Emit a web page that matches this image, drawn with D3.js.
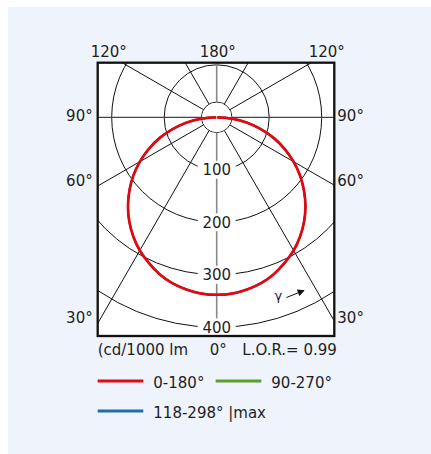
<!DOCTYPE html>
<html>
<head>
<meta charset="utf-8">
<script src="https://cdn.jsdelivr.net/npm/d3@7"></script>
<style>
  html, body { margin: 0; padding: 0; background: #fff; }
  svg { display: block; }
  text { font-family: "DejaVu Sans", sans-serif; fill: #1e1e1e; }
</style>
</head>
<body>
<script>
// gamma angles (deg) and intensities (cd/1000 lm)
var gammaAngles = [0, 5, 10, 15, 20, 25, 30, 35, 40, 45, 50, 55, 60, 65, 70, 75, 80, 85, 90];
var plane0_180 = [338, 337, 333, 327, 318, 306, 293, 277, 259, 239, 217, 194, 169, 143, 116, 87, 59, 29, 1];
var plane90_270 = [338, 337, 333, 327, 318, 306, 293, 277, 259, 239, 217, 194, 169, 143, 116, 87, 59, 29, 1];
var plane118_298 = [338, 337, 333, 327, 318, 306, 293, 277, 259, 239, 217, 194, 169, 143, 116, 87, 59, 29, 1];

var ringValues = [100, 200, 300, 400];
var innerRingValue = 29;
var radialAngles = [30, 60, 90, 120, 150];
var sideLabels = ['30°', '60°', '90°'];
var topLabels = ['120°', '180°', '120°'];
var legendItems = [
    {name: '0-180°', color: '#e30613'},
    {name: '90-270°', color: '#5aa02c'},
    {name: '118-298° |max', color: '#1f6db0'}
];

var W = 431, H = 454;
var cx = 216.7, cy = 117.3;
var box = {x0: 97.7, y0: 62.7, x1: 334.3, y1: 336};
var fs = '15px';

var svg = d3.select('body').append('svg').attr('width', W).attr('height', H);

svg.append('rect').attr('x', 8).attr('y', 7).attr('width', W - 8).attr('height', H - 7)
    .style('fill', '#eff3fb');

var r = d3.scaleLinear().domain([0, 400]).range([0, 210]);

svg.append('clipPath').attr('id', 'boxclip').append('rect')
    .attr('x', box.x0).attr('y', box.y0)
    .attr('width', box.x1 - box.x0).attr('height', box.y1 - box.y0);

svg.append('rect')
    .attr('x', box.x0).attr('y', box.y0)
    .attr('width', box.x1 - box.x0).attr('height', box.y1 - box.y0)
    .style('fill', '#fff');

var grid = svg.append('g').attr('clip-path', 'url(#boxclip)');

// rings
grid.selectAll('circle.ring').data(ringValues.concat([innerRingValue])).enter()
    .append('circle').attr('class', 'ring')
    .attr('cx', cx).attr('cy', cy).attr('r', function(d) { return r(d); })
    .style('fill', 'none').style('stroke', '#111').style('stroke-width', 1);

// radial lines, gamma from downward vertical, both sides
var far = 400;
radialAngles.forEach(function(a) {
    var t = a * Math.PI / 180;
    [-1, 1].forEach(function(side) {
        if (a === 90 && side === 1) return;
        var x0 = cx + side * r(innerRingValue) * Math.sin(t), y0 = cy + r(innerRingValue) * Math.cos(t);
        var x1 = cx + side * far * Math.sin(t), y1 = cy + far * Math.cos(t);
        if (a === 90) { x0 = cx - far; x1 = cx + far; y0 = y1 = cy; }
        grid.append('line').attr('x1', x0).attr('y1', y0).attr('x2', x1).attr('y2', y1)
            .style('stroke', a === 90 ? '#444' : '#111')
            .style('stroke-width', a === 90 ? 1.3 : 1);
    });
});
// vertical 0-180 axis
grid.append('line').attr('x1', cx).attr('x2', cx).attr('y1', box.y0).attr('y2', cy - r(innerRingValue))
    .style('stroke', '#888').style('stroke-width', 1.6);
grid.append('line').attr('x1', cx).attr('x2', cx).attr('y1', cy + r(innerRingValue)).attr('y2', box.y1)
    .style('stroke', '#888').style('stroke-width', 1.6);
// blank the 90 line inside inner circle
grid.append('circle').attr('cx', cx).attr('cy', cy).attr('r', r(innerRingValue) - 0.6).style('fill', '#fff');

// ring labels
var ringLab = grid.selectAll('g.rl').data(ringValues).enter().append('g')
    .attr('transform', function(d) { return 'translate(' + cx + ',' + (cy + r(d)) + ')'; });
ringLab.append('rect').attr('x', -19).attr('y', -9).attr('width', 38).attr('height', 18).style('fill', '#fff');
ringLab.append('text').attr('text-anchor', 'middle').attr('dy', '0.36em')
    .style('font-size', fs).text(function(d) { return d; });

// curves
var radial = d3.lineRadial().curve(d3.curveCardinal);
function curvePoints(vals) {
    var pts = [];
    for (var i = gammaAngles.length - 1; i >= 0; i--)
        pts.push([Math.PI + gammaAngles[i] * Math.PI / 180, r(vals[i])]);
    for (var j = 1; j < gammaAngles.length; j++)
        pts.push([Math.PI - gammaAngles[j] * Math.PI / 180, r(vals[j])]);
    return pts;
}
var curves = grid.append('g').attr('transform', 'translate(' + cx + ',' + cy + ')');
[[plane118_298, legendItems[2].color, 2], [plane90_270, legendItems[1].color, 2], [plane0_180, legendItems[0].color, 2.7]]
    .forEach(function(c) {
        curves.append('path').attr('d', radial(curvePoints(c[0])))
            .style('fill', 'none').style('stroke', c[1]).style('stroke-width', c[2]);
    });

// gamma arrow
svg.append('defs').append('marker').attr('id', 'ah').attr('viewBox', '0 0 10 10')
    .attr('refX', 9).attr('refY', 5).attr('markerWidth', 8).attr('markerHeight', 7)
    .attr('markerUnits', 'userSpaceOnUse').attr('orient', 'auto')
    .append('path').attr('d', 'M0,0L10,5L0,10Z').style('fill', '#111');
svg.append('text').attr('x', 274.5).attr('y', 300).style('font-size', '13px').text('γ');
svg.append('line').attr('x1', 286.5).attr('y1', 297.5).attr('x2', 304).attr('y2', 290.5)
    .style('stroke', '#111').style('stroke-width', 1).attr('marker-end', 'url(#ah)');

// frame
svg.append('rect')
    .attr('x', box.x0).attr('y', box.y0)
    .attr('width', box.x1 - box.x0).attr('height', box.y1 - box.y0)
    .style('fill', 'none').style('stroke', '#111').style('stroke-width', 2.3);

// angle labels
var sideAngles = [30, 60, 90];
sideAngles.forEach(function(a, i) {
    var t = a * Math.PI / 180;
    var yEnd = cy + (cx - box.x0) / Math.tan(t);
    if (a === 90) yEnd = cy + 4;
    svg.append('text').attr('x', box.x0 - 5).attr('y', yEnd).attr('text-anchor', 'end')
        .style('font-size', fs).text(sideLabels[i]);
    svg.append('text').attr('x', box.x1 + 3).attr('y', yEnd).attr('text-anchor', 'start')
        .style('font-size', fs).text(sideLabels[i]);
});
[-109, 0, 109].forEach(function(dx, i) {
    svg.append('text').attr('x', cx + dx + 1).attr('y', 57).attr('text-anchor', 'middle')
        .style('font-size', fs).text(topLabels[i]);
});

// bottom notes
svg.append('text').attr('x', box.x0).attr('y', 355).style('font-size', fs).text('(cd/1000 lm');
svg.append('text').attr('x', cx + 1.5).attr('y', 355).attr('text-anchor', 'middle').style('font-size', fs).text('0°');
svg.append('text').attr('x', box.x1 + 2.5).attr('y', 355).attr('text-anchor', 'end').style('font-size', fs).text('L.O.R.= 0.99');

// legend
var legPos = [[97.7, 381], [215.7, 381], [97.7, 411]];
legendItems.forEach(function(d, i) {
    var p = legPos[i];
    svg.append('line').attr('x1', p[0]).attr('x2', p[0] + 45.6).attr('y1', p[1]).attr('y2', p[1])
        .style('stroke', d.color).style('stroke-width', 3);
    svg.append('text').attr('x', p[0] + 55.6).attr('y', p[1] + 6.5).style('font-size', fs).text(d.name);
});
</script>
</body>
</html>
